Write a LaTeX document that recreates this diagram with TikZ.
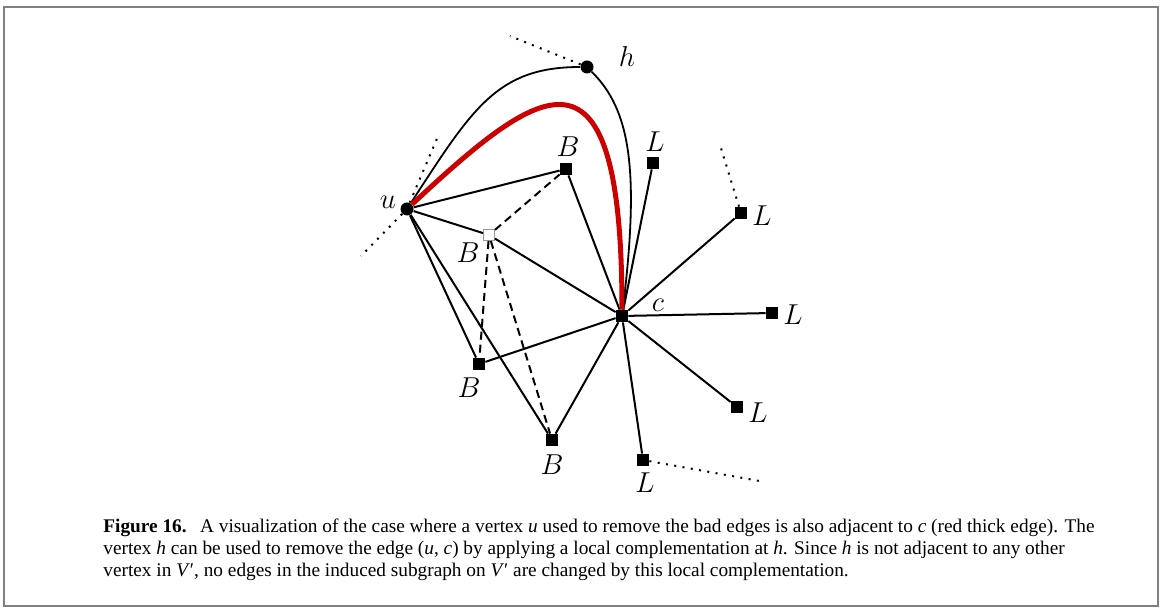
\documentclass[tikz,border=0pt]{standalone}
\usepackage{fontspec}
\newfontfamily\capfont{Liberation Serif}
\usetikzlibrary{calc}

\definecolor{edgered}{RGB}{204,0,0}
\definecolor{framegray}{RGB}{128,128,128}

\tikzset{
	vtx/.style={circle, fill=black, inner sep=0pt, minimum size=6.5pt},
	sq/.style={rectangle, fill=black, inner sep=0pt, minimum size=6pt},
	hsq/.style={rectangle, fill=white, draw=black!40, line width=0.5pt, inner sep=0pt, minimum size=5.5pt},
	lbl/.style={inner sep=0pt, font=\fontsize{15}{17}\selectfont},
	edge/.style={line width=1pt},
	dedge/.style={line width=1pt, dash pattern=on 4pt off 2.5pt},
	dots/.style={line width=1pt, dash pattern=on 1pt off 3.2pt},
	capline/.style={anchor=base west, inner sep=0pt, font=\capfont\fontsize{9.65}{11}\selectfont}
}

\begin{document}
\begin{tikzpicture}[x=0.5pt, y=0.5pt]
			\useasboundingbox (0,0) rectangle (1163,-608);
			\draw [framegray, line width=1pt] (4,-7) rectangle (1158,-606);
			
			%vertices
			\node [vtx] (u) at (407,-209) {};
			\node [vtx] (h) at (587,-67) {};
			\node [sq] (c) at (622,-316) {};
			\node [sq] (b1) at (566,-169) {};
			\node [hsq] (b2) at (489,-235) {};
			\node [sq] (b3) at (479,-364) {};
			\node [sq] (b4) at (552,-440) {};
			\node [sq] (l1) at (653,-163) {};
			\node [sq] (l2) at (741,-213) {};
			\node [sq] (l3) at (772,-313) {};
			\node [sq] (l4) at (737,-407) {};
			\node [sq] (l5) at (643,-460) {};
			
			%labels
			\node [lbl] (hl) at (627,-57) {$h$};
			\node [lbl] (ul) at (388,-202) {$u$};
			\node [lbl] (cl) at (658,-305) {$c$};
			\node [lbl] (b1l) at (568,-147) {$B$};
			\node [lbl] (b2l) at (468,-253) {$B$};
			\node [lbl] (b3l) at (469,-388) {$B$};
			\node [lbl] (b4l) at (552,-465) {$B$};
			\node [lbl] (l1l) at (655,-142) {$L$};
			\node [lbl] (l2l) at (762,-216) {$L$};
			\node [lbl] (l3l) at (793,-315) {$L$};
			\node [lbl] (l4l) at (758,-413) {$L$};
			\node [lbl] (l5l) at (645,-483) {$L$};
			
			%loose ends
			\coordinate (hx) at (510,-36);
			\coordinate (ux1) at (439,-134);
			\coordinate (ux2) at (361,-256);
			\coordinate (l2x) at (720,-145);
			\coordinate (l5x) at (765,-482);
			
			\draw [dots] (h) -- (hx);
			\draw [dots] (u) -- (ux1);
			\draw [dots] (u) -- (ux2);
			\draw [dots] (l2) -- (l2x);
			\draw [dots] (l5) -- (l5x);
			
			%edges at u and c
			\foreach \b in {b1, b2, b3, b4} {
				\draw [edge] (u) -- (\b);
				\draw [edge] (\b) -- (c);
			}
			\foreach \l in {l1, l2, l3, l4, l5}
				\draw [edge] (c) -- (\l);
			\foreach \b in {b1, b3, b4}
				\draw [dedge] (b2) -- (\b);
			
			\draw [line width=0.9pt] (u) .. controls +(57:120) and +(180:90) .. (h);
			\draw [line width=0.9pt] (h) .. controls +(-45:60) and +(83:150) .. (c);
			\draw [edgered, line width=2.5pt] (u) .. controls +(43:185) and +(90:290) .. (c);
			
			%caption
			\node [capline] (cap1) at (103,-533) {\textbf{Figure 16.}\hspace{0.7em}A visualization of the case where a vertex \textit{u} used to remove the bad edges is also adjacent to \textit{c} (red thick edge). The};
			\node [capline] (cap2) at (103,-555) {vertex \textit{h} can be used to remove the edge (\textit{u}, \textit{c}) by applying a local complementation at \textit{h}. Since \textit{h} is not adjacent to any other};
			\node [capline] (cap3) at (103,-577) {vertex in \textit{V}′, no edges in the induced subgraph on \textit{V}′ are changed by this local complementation.};
		\end{tikzpicture}
\end{document}
